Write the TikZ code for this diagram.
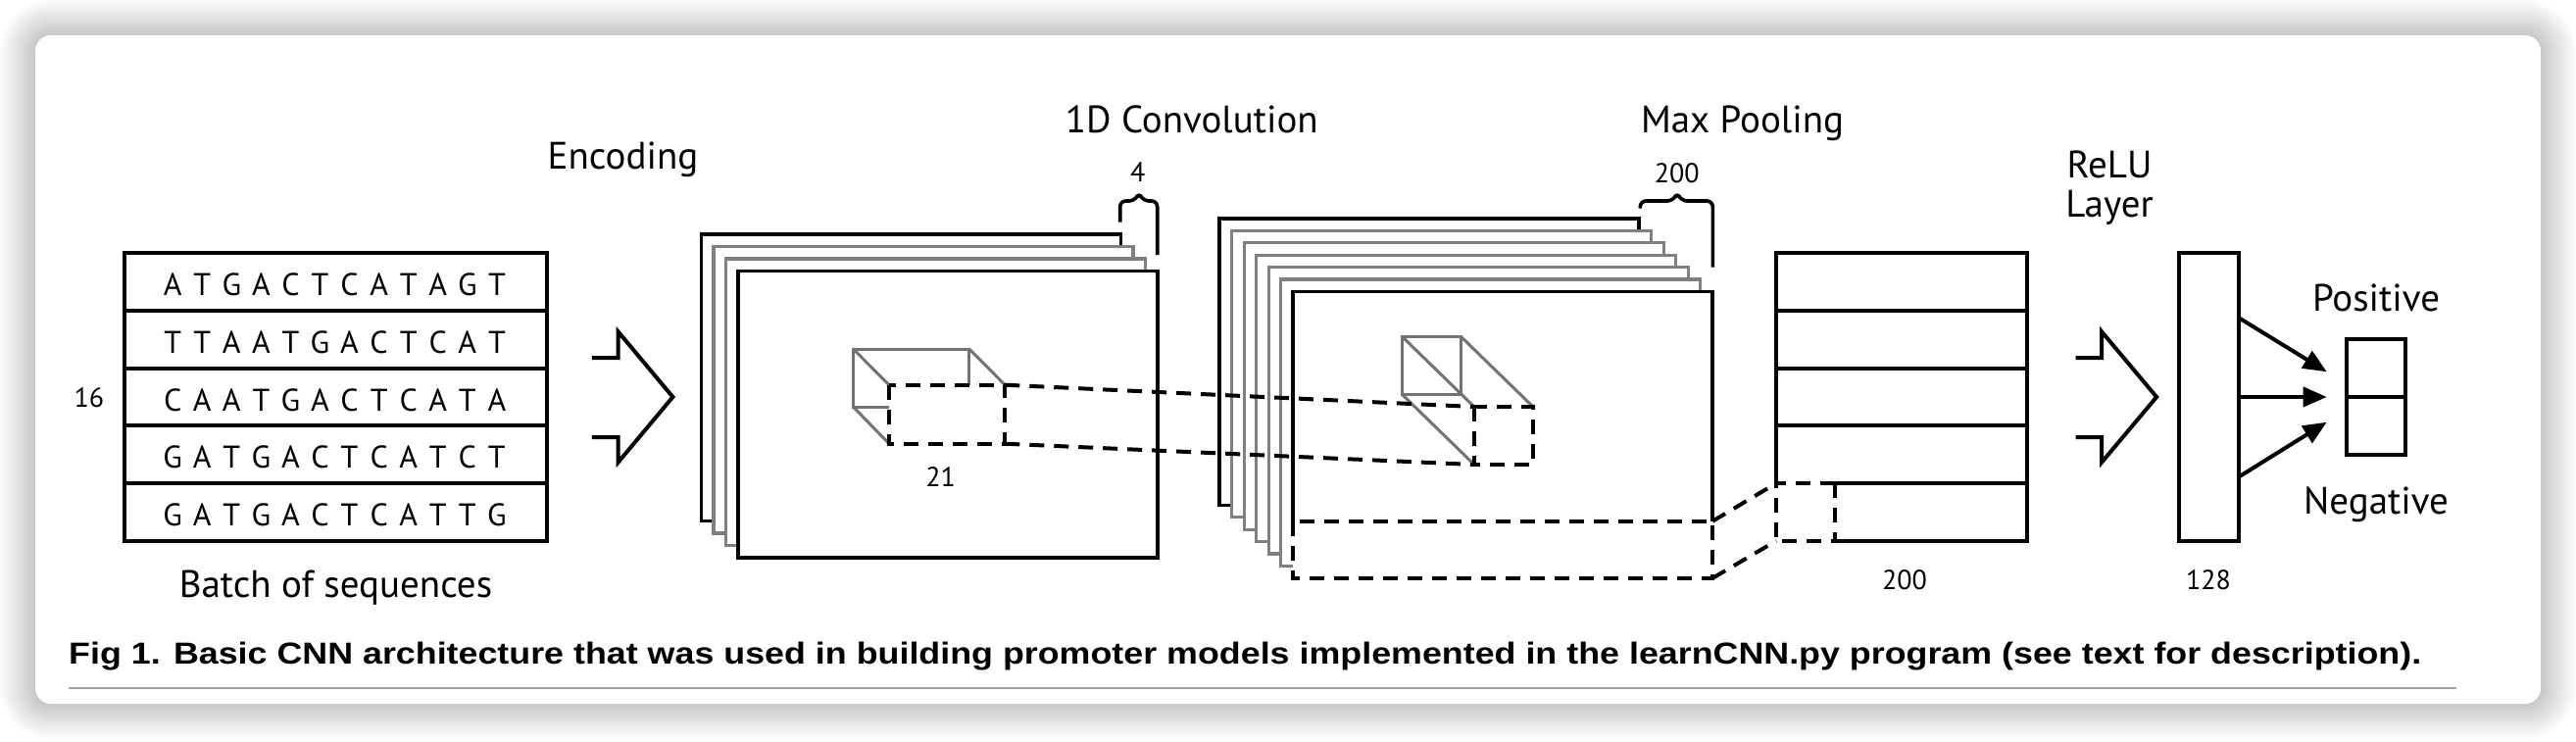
\documentclass[tikz,border=0pt]{standalone}
\usepackage{fontspec}
\usepackage{graphicx}
\usetikzlibrary{arrows.meta,calc}
\newfontfamily\df{PT Sans}
\newfontfamily\cf{Liberation Sans}
\definecolor{sheetgray}{gray}{0.5}
\definecolor{kgray}{gray}{0.45}
\definecolor{rulegray}{gray}{0.62}
\newcommand\sq[1]{\makebox[30.06pt]{#1}}
\begin{document}
\begin{tikzpicture}[x=1pt,y=-1pt,
  blk/.style={draw=black,line width=4pt},
  sht/.style={draw=black,line width=3.6pt,fill=white},
  gsht/.style={draw=sheetgray,line width=3.2pt,fill=white},
  kern/.style={draw=kgray,line width=3pt},
  dsh/.style={draw=black,line width=4pt,dash pattern=on 15pt off 10pt},
  ttl/.style={font=\df\fontsize{39}{44}\selectfont,inner sep=0pt,anchor=base},
  num/.style={font=\df\fontsize{28}{32}\selectfont,inner sep=0pt,anchor=base},
  seqtxt/.style={font=\df\fontsize{32}{36}\selectfont,inner sep=0pt,anchor=base west},
  hollow/.style={draw=black,line width=4pt,miter limit=10},
  bracestyle/.style={draw=black,line width=3.6pt,rounded corners=6pt},
  tipline/.style={draw=black,line width=4pt,-{Triangle[length=24pt,width=20pt]}}
]
\useasboundingbox (0,0) rectangle (2628,756);
\fill[white] (0,0) rectangle (2628,756);
% shadow + card
\foreach \i in {1,...,18}{
  \fill[black,opacity=0.01,rounded corners={16pt+2*\i pt}] (36-2*\i,36-2*\i) rectangle (2592+2*\i,718+2*\i);
}
\fill[white,rounded corners=16pt] (36,36) rectangle (2592,718);

% ---------- batch of sequences ----------
\coordinate (seqTL) at (126.7,258);
\coordinate (seqBR) at (557.7,551.75);
\draw[blk] (seqTL) rectangle (seqBR);
\foreach \y in {316.75,375.5,434.25,493}{
  \draw[blk] (126.7,\y) -- (557.7,\y);
}
\node[seqtxt] (s1) at (161,301.5) {\sq A\sq T\sq G\sq A\sq C\sq T\sq C\sq A\sq T\sq A\sq G\sq T};
\node[seqtxt] (s2) at (161,360.25) {\sq T\sq T\sq A\sq A\sq T\sq G\sq A\sq C\sq T\sq C\sq A\sq T};
\node[seqtxt] (s3) at (161,419) {\sq C\sq A\sq A\sq T\sq G\sq A\sq C\sq T\sq C\sq A\sq T\sq A};
\node[seqtxt] (s4) at (161,477.75) {\sq G\sq A\sq T\sq G\sq A\sq C\sq T\sq C\sq A\sq T\sq C\sq T};
\node[seqtxt] (s5) at (161,536.5) {\sq G\sq A\sq T\sq G\sq A\sq C\sq T\sq C\sq A\sq T\sq T\sq G};
\node[num] (n16) at (90.8,415) {16};
\node[ttl] (batch) at (342.5,609) {Batch of sequences};

% ---------- encoding arrow ----------
\node[ttl] (enc) at (635.5,172.7) {Encoding};
\draw[hollow] (603.8,365) -- (630.6,365) -- (630.6,338.3) -- (686.4,405) -- (630.6,471.7) -- (630.6,446) -- (603.8,446);

% ---------- convolution stack ----------
\node[ttl] (conv) at (1215.8,135.7) {1D Convolution};
\path[sht]  (715.5,239.1) rectangle (1143.5,531.6);
\path[gsht] (728,251.5) rectangle (1156,544);
\path[gsht] (740.5,263.9) rectangle (1168.5,556.4);
\path[sht]  (753,276.3) rectangle (1181,568.8);
\draw[bracestyle] (1142.7,226.7) -- (1142.7,205) -- (1158,205) -- (1162,196) -- (1166,205) -- (1180.7,205) -- (1180.7,260);
\node[num] (n4) at (1160.8,185) {4};
% kernel
\coordinate (kbTL) at (870.4,356);
\coordinate (kbTR) at (988.7,356);
\coordinate (kbBL) at (870.4,415);
\coordinate (kfTL) at (907,392.7);
\coordinate (kfTR) at (1025.3,392.7);
\coordinate (kfBL) at (907,452.7);
\coordinate (kfBR) at (1025.3,452.7);
\draw[kern] (907,415) -- (kbBL) -- (kbTL) -- (kbTR) -- (988.7,392.7);
\draw[kern] (kbTL) -- (kfTL);
\draw[kern] (kbTR) -- (kfTR);
\draw[kern] (kbBL) -- (kfBL);
\draw[dsh] (kfTL) rectangle (kfBR);
\node[num] (n21) at (959.6,496.7) {21};

% ---------- pooling stack ----------
\node[ttl] (pool) at (1777.5,135) {Max Pooling};
\path[sht]  (1244.2,222.9) rectangle (1672.2,515.4);
\path[gsht] (1256.7,235.3) rectangle (1684.7,527.8);
\path[gsht] (1269.2,247.7) rectangle (1697.2,540.2);
\path[gsht] (1281.7,260.1) rectangle (1709.7,552.6);
\path[gsht] (1294.2,272.5) rectangle (1722.2,565);
\path[gsht] (1306.7,284.9) rectangle (1734.7,577.4);
\fill[white] (1319.2,297.3) rectangle (1747.2,589.8);
\coordinate (psTL) at (1319.2,531.7);
\coordinate (psTR) at (1747.2,531.7);
\coordinate (psBR) at (1747.2,589.8);
\draw[draw=black,line width=3.6pt] (psTL) -- (1319.2,297.3) -- (1747.2,297.3) -- (psTR);
\draw[dsh] (psTL) rectangle (psBR);
\draw[bracestyle] (1673.3,212.7) -- (1673.3,205) -- (1707,205) -- (1711,196) -- (1715,205) -- (1747.3,205) -- (1747.3,272.7);
\node[num] (n200a) at (1710.8,186) {200};
% pooling kernel
\coordinate (pbTL) at (1430,343);
\coordinate (pbTR) at (1490,343);
\coordinate (pbBL) at (1430,402);
\coordinate (pbBR) at (1490,402);
\coordinate (pfTL) at (1504,415);
\coordinate (pfTR) at (1564,415);
\coordinate (pfBL) at (1504,474);
\coordinate (pfBR) at (1564,474);
\draw[kern] (pbTL) rectangle (pbBR);
\draw[kern] (pbTL) -- (pfTL);
\draw[kern] (pbTR) -- (pfTR);
\draw[kern] (pbBL) -- (pfBL);
\draw[dsh] (pfTL) rectangle (pfBR);
% connectors between kernels
\draw[dsh] (kfTR) -- (pfTL);
\draw[dsh] (kfBR) -- (pfBL);

% ---------- max pooling output ----------
\coordinate (oTL) at (1812.1,258);
\coordinate (oBL) at (1812.1,551.75);
\coordinate (oRowL) at (1812.1,493);
\coordinate (oRowM) at (1872,493);
\coordinate (oBotM) at (1872,551.75);
\draw[blk] (oRowL) -- (oTL) -- (2068.3,258) -- (2068.3,551.75) -- (oBotM);
\foreach \y in {316.75,375.5,434.25}{
  \draw[blk] (1812.1,\y) -- (2068.3,\y);
}
\draw[blk] (oRowM) -- (2068.3,493);
\draw[dsh] (oRowM) -- (oRowL) -- (oBL) -- (oBotM);
\draw[dsh] (oRowM) -- (oBotM);
\draw[dsh] (psTR) -- (oRowL);
\draw[dsh] (psBR) -- (oBL);
\node[num] (n200b) at (1943,601.7) {200};

% ---------- ReLU ----------
\node[ttl] (relu1) at (2152,181.7) {ReLU};
\node[ttl] (relu2) at (2152,221.7) {Layer};
\draw[hollow] (2117.5,365) -- (2144.1,365) -- (2144.1,338.3) -- (2200.1,405) -- (2144.1,471.7) -- (2144.1,446) -- (2117.5,446);
\node[blk,rectangle,inner sep=0pt,minimum width=60.7pt,minimum height=294pt] (dense) at (2253.35,405.3) {};
\node[num] (n128) at (2253,601.7) {128};

% ---------- output ----------
\node[blk,rectangle,inner sep=0pt,minimum width=59.7pt,minimum height=118.3pt] (out) at (2424.15,405.15) {};
\draw[blk] (out.west) -- (out.east);
\coordinate (a1s) at (2283.7,324);
\coordinate (a2s) at (2283.7,405);
\coordinate (a3s) at (2283.7,486.7);
\coordinate (a1e) at (2373.7,379.3);
\coordinate (a2e) at (2373.7,405);
\coordinate (a3e) at (2373.7,430.7);
\draw[tipline] (a1s) -- (a1e);
\draw[tipline] (a2s) -- (a2e);
\draw[tipline] (a3s) -- (a3e);
\node[ttl] (pos) at (2424,317.3) {Positive};
\node[ttl] (neg) at (2424,524) {Negative};

% ---------- caption ----------
\node[anchor=base west,inner sep=0pt] (cap) at (70,677) {\resizebox{2400pt}{\height}{\cf\bfseries\fontsize{31}{35}\selectfont Fig 1. Basic CNN architecture that was used in building promoter models implemented in the learnCNN.py program (see text for description).}};
\coordinate (rl) at (70,702);
\coordinate (rr) at (2506,702);
\draw[rulegray,line width=2.6pt] (rl) -- (rr);
\end{tikzpicture}
\end{document}
